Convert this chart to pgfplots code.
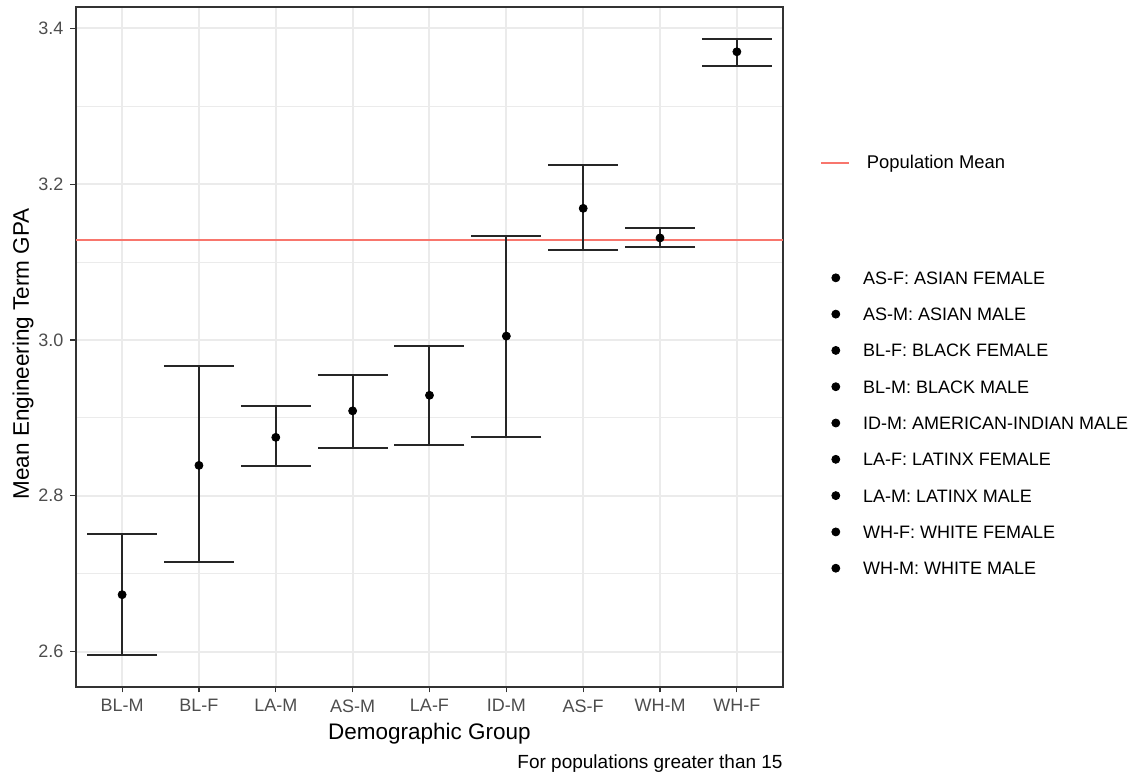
\documentclass[border=0pt]{standalone}
\usepackage{fontspec}
\setmainfont{Liberation Sans}
\usepackage{pgfplots}
\pgfplotsset{compat=1.18}
\definecolor{gridc}{HTML}{EBEBEB}
\definecolor{framec}{HTML}{333333}
\definecolor{tickc}{HTML}{4D4D4D}
\definecolor{meanc}{HTML}{F8766D}
\begin{document}
\begin{tikzpicture}
\path[use as bounding box] (0,0) rectangle (565.5pt,388.5pt);
\begin{axis}[
  at={(38pt,45pt)}, anchor=south west,
  scale only axis, width=353.5pt, height=340pt,
  clip=false,
  xmin=-0.6, xmax=8.6, ymin=2.5545, ymax=3.4275,
  xtick={0,...,8},
  xticklabels={BL-M,BL-F,LA-M,AS-M,LA-F,ID-M,AS-F,WH-M,WH-F},
  ytick={2.6,2.8,3.0,3.2,3.4},
  minor ytick={2.7,2.9,3.1,3.3},
  yticklabel style={/pgf/number format/.cd, fixed, fixed zerofill, precision=1},
  /pgf/number format/assume math mode=true,
  ticklabel style={font=\fontsize{9}{10}\selectfont, text=tickc},
  tick pos=left,
  tick align=outside, major tick length=2.75pt, minor tick length=0pt,
  tick style={framec, line width=0.6pt},
  grid=both,
  major grid style={gridc, line width=1pt},
  minor grid style={gridc, line width=0.5pt},
  axis line style={framec, line width=0.8pt},
  xlabel={Demographic Group}, ylabel={Mean Engineering Term GPA},
  label style={font=\fontsize{11.25}{13}\selectfont},
  xlabel style={at={(axis description cs:0.5,-0.069)}, anchor=center},
  ylabel style={at={(axis description cs:-0.075,0.49)}, anchor=center},
  legend image code/.code={\draw[#1] (0pt,0pt) -- (14pt,0pt);},
  legend style={at={(axis description cs:1.0523,0.7706)}, anchor=west,
    draw=none, fill=none, inner sep=0pt, column sep=8.5pt,
    nodes={inner sep=0pt, font=\fontsize{9.2}{10}\selectfont}},
]
\addplot[meanc, line width=0.8pt] coordinates {(-0.6,3.128) (8.6,3.128)};
\addlegendentry{Population Mean}
\addplot[only marks, mark=*, mark size=2pt, mark options={black}, forget plot,
  error bars/.cd, y dir=both, y explicit, error mark=|,
  error mark options={mark size=17.5pt, line width=1pt, color=black!85},
  error bar style={line width=1pt, color=black!85}]
  coordinates {
  (0,2.673) += (0,0.078) -= (0,0.077)
  (1,2.839) += (0,0.127) -= (0,0.124)
  (2,2.875) += (0,0.040) -= (0,0.037)
  (3,2.909) += (0,0.046) -= (0,0.048)
  (4,2.929) += (0,0.063) -= (0,0.064)
  (5,3.005) += (0,0.128) -= (0,0.129)
  (6,3.169) += (0,0.056) -= (0,0.053)
  (7,3.131) += (0,0.013) -= (0,0.011)
  (8,3.370) += (0,0.017) -= (0,0.018)
  };
\node[anchor=east, inner sep=0pt, font=\fontsize{9.5}{10}\selectfont] at (axis description cs:1,-0.113) {For populations greater than 15};
\end{axis}
\begin{axis}[
  at={(38pt,45pt)}, anchor=south west,
  scale only axis, width=353.5pt, height=340pt,
  hide axis, xmin=0, xmax=1, ymin=0, ymax=1,
  legend image code/.code={\fill[#1] (0pt,0pt) circle (2pt);},
  legend style={at={(axis description cs:1.0679,0.3882)}, anchor=west,
    draw=none, fill=none, inner sep=0pt, column sep=11.5pt, row sep=11.65pt,
    cells={anchor=west},
    nodes={inner sep=0pt, text height=6.5pt, text depth=0pt, font=\fontsize{9}{10}\selectfont}},
]
\addlegendimage{black}
\addlegendentry{AS-F: ASIAN FEMALE}
\addlegendimage{black}
\addlegendentry{AS-M: ASIAN MALE}
\addlegendimage{black}
\addlegendentry{BL-F: BLACK FEMALE}
\addlegendimage{black}
\addlegendentry{BL-M: BLACK MALE}
\addlegendimage{black}
\addlegendentry{ID-M: AMERICAN-INDIAN MALE}
\addlegendimage{black}
\addlegendentry{LA-F: LATINX FEMALE}
\addlegendimage{black}
\addlegendentry{LA-M: LATINX MALE}
\addlegendimage{black}
\addlegendentry{WH-F: WHITE FEMALE}
\addlegendimage{black}
\addlegendentry{WH-M: WHITE MALE}
\end{axis}
\end{tikzpicture}
\end{document}
